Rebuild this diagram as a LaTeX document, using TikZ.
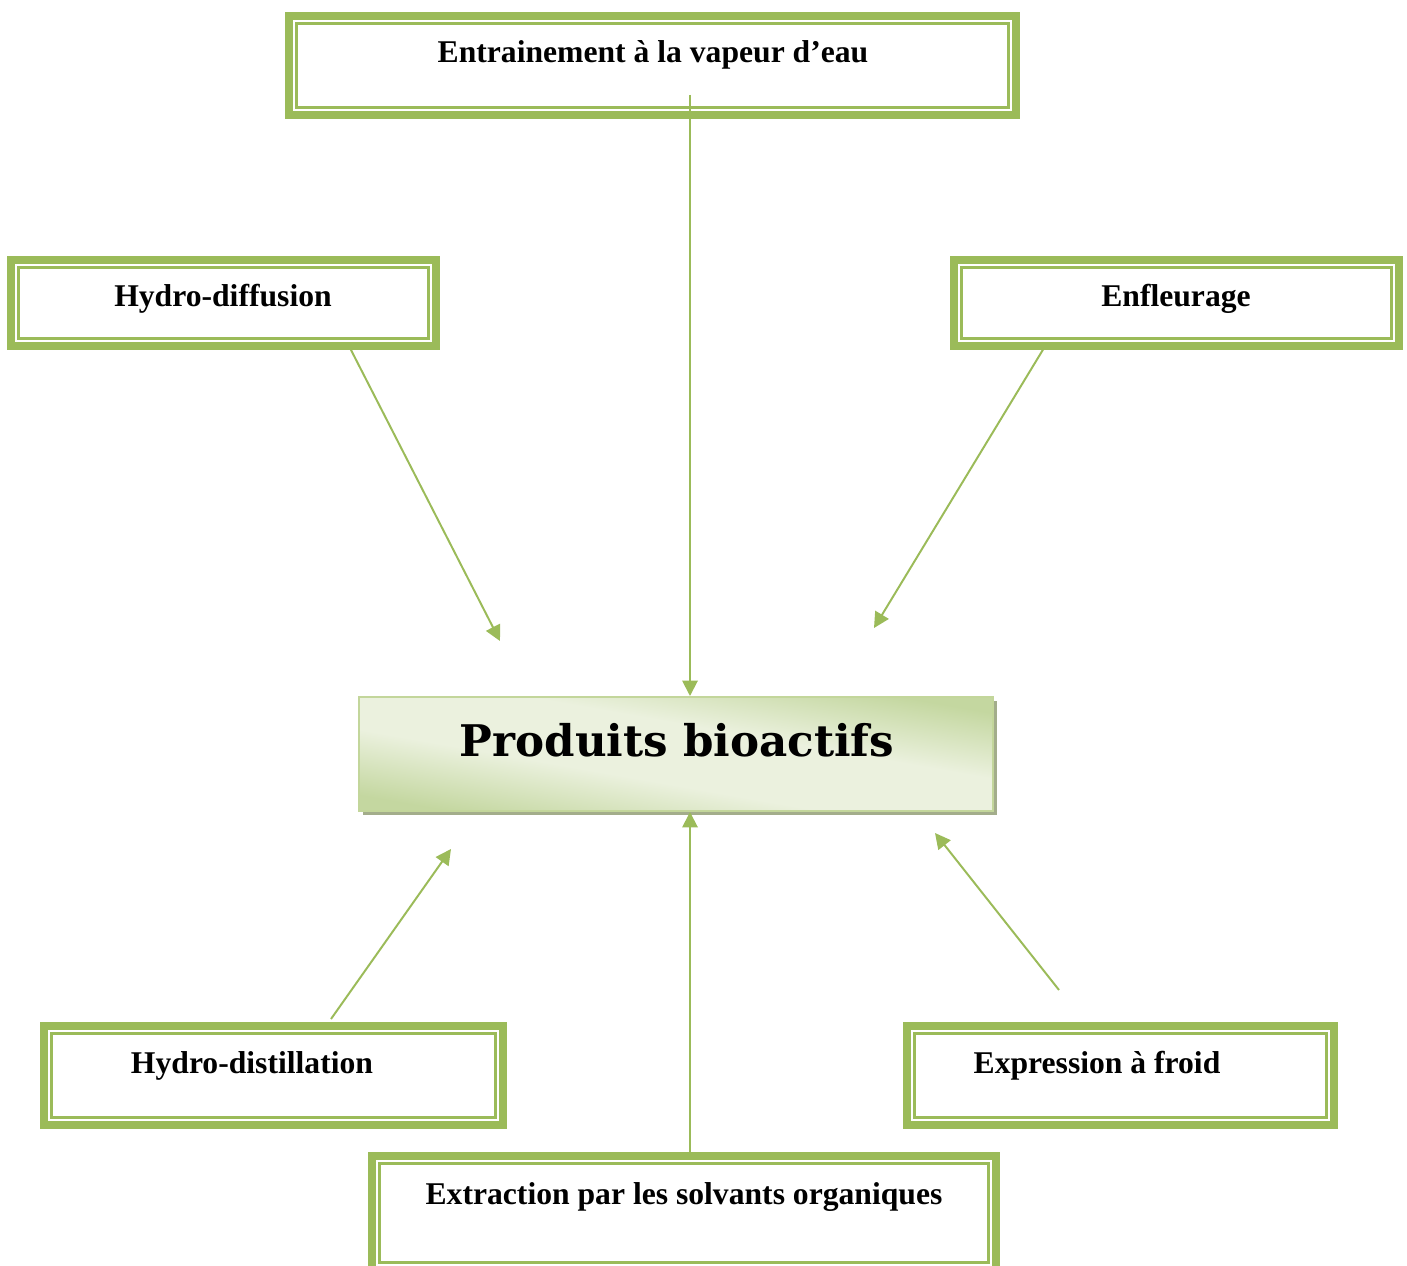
\documentclass[tikz,border=0pt]{standalone}
\usepackage{fontspec}
\setmainfont{Liberation Serif}
\newfontfamily\heavyfont{DejaVu Serif}
\usetikzlibrary{arrows.meta,calc}
\definecolor{olivegreen}{HTML}{9BBB59}
\definecolor{olivepale}{HTML}{EBF1DE}
\definecolor{olivemid}{HTML}{C4D7A0}
\definecolor{oliveline}{HTML}{C3D69B}
\definecolor{oliveshadow}{HTML}{A3AD8B}
\pgfdeclareverticalshading{prodfill}{100bp}{color(0bp)=(olivemid); color(25bp)=(olivemid);
  color(42bp)=(olivepale); color(58bp)=(olivepale); color(75bp)=(olivemid); color(100bp)=(olivemid)}

\begin{document}
\begin{tikzpicture}[x=0.025cm,y=-0.025cm,
    frame/.style={draw=olivegreen, line width=5.67pt, fill=white,
      path picture={\draw[olivegreen, line width=1.85pt]
        ([shift={(5.4pt,5.4pt)}]path picture bounding box.south west) rectangle
        ([shift={(-5.4pt,-5.4pt)}]path picture bounding box.north east);}},
    lbl/.style={anchor=base, inner sep=0pt, font=\fontsize{22.5}{26}\selectfont\bfseries},
    link/.style={olivegreen, line width=1.4pt, -{Triangle[length=11pt,width=11pt]}}]
      \useasboundingbox (0,0) rectangle (1407,1266);
      \clip (0,0) rectangle (1407,1266);

      \node[frame, minimum width=18.175cm, minimum height=2.475cm] (steam) at (652.5,65.5) {};
      \node[lbl] (steam-t) at (653,63) {Entrainement à la vapeur d’eau};
      \node[frame, minimum width=10.625cm, minimum height=2.15cm] (hdiff) at (223.5,303) {};
      \node[lbl] (hdiff-t) at (223,307) {Hydro-diffusion};
      \node[frame, minimum width=11.125cm, minimum height=2.15cm] (enfl) at (1176.5,303) {};
      \node[lbl] (enfl-t) at (1176,307) {Enfleurage};
      \node[frame, minimum width=11.475cm, minimum height=2.475cm] (hdist) at (273.5,1075.5) {};
      \node[lbl] (hdist-t) at (252,1073) {Hydro-distillation};
      \node[frame, minimum width=10.675cm, minimum height=2.475cm] (expr) at (1120.5,1075.5) {};
      \node[lbl] (expr-t) at (1097,1073) {Expression à froid};
      \node[frame, minimum width=15.6cm, minimum height=2.85cm] (extr) at (684,1213) {};
      \node[lbl] (extr-t) at (684,1204) {Extraction par les solvants organiques};

      \fill[oliveshadow] (363,701) rectangle (997,815);
      \node[draw=oliveline, line width=1.4pt, minimum width=15.85cm, minimum height=2.85cm,
        shading=prodfill, shading angle=-10]
        (prod) at (676,754) {};
      \node[anchor=base, inner sep=0pt, font=\heavyfont\fontsize{31}{35}\selectfont\bfseries]
        (prod-t) at (677,756) {Produits bioactifs};

      \coordinate (steam-out) at (690,95);
      \coordinate (hdiff-out) at (350,348);
      \coordinate (hdiff-in) at (500,641);
      \coordinate (enfl-out) at (1044,348);
      \coordinate (enfl-in) at (874,628);
      \coordinate (hdist-out) at (331,1019);
      \coordinate (hdist-in) at (451,849);
      \coordinate (expr-out) at (1059,990);
      \coordinate (expr-in) at (935,833);
      \coordinate (extr-out) at (690,1152);
      \coordinate (extr-in) at (690,812);

      \draw[link] (steam-out) -- (steam-out |- prod.north);
      \draw[link] (hdiff-out) -- (hdiff-in);
      \draw[link] (enfl-out) -- (enfl-in);
      \draw[link] (hdist-out) -- (hdist-in);
      \draw[link] (expr-out) -- (expr-in);
      \draw[link] (extr-out) -- (extr-in);
    \end{tikzpicture}
\end{document}
